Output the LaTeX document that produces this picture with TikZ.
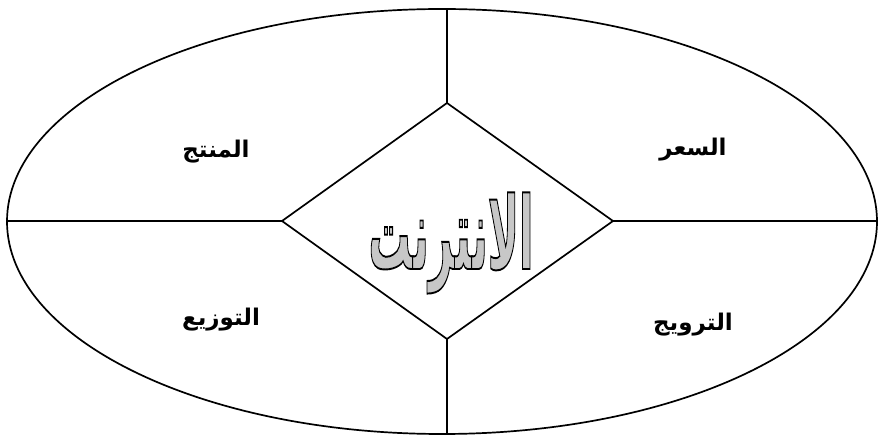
\documentclass[tikz,border=0pt]{standalone}
\usepackage{fontspec}
\TeXXeTstate=1
\newfontfamily\arabicfont[Script=Arabic]{DejaVu Sans}

\begin{document}
\begin{tikzpicture}[x=1pt, y=-1pt, line width=1.7pt]
% Stile per le etichette dei quattro settori
\tikzset{label/.style={font=\arabicfont\bfseries\fontsize{23}{26}\selectfont, inner sep=0pt}}

% Area del disegno (proporzioni del riferimento)
\useasboundingbox (0,0) rectangle (878,435);

% Parametri geometrici dell'ellisse e del rombo
\def\cx{442}  % centro ellisse
\def\cy{221.5}
\def\rx{435}  % semiassi
\def\ry{212.5}

% Vertici del rombo
\coordinate (T) at (447,103);
\coordinate (D) at (447,339);
\coordinate (L) at (282,221);
\coordinate (R) at (613,221);

% Punti sul bordo dell'ellisse
\coordinate (ET) at (447,9);
\coordinate (ED) at (447,434);
\coordinate (EL) at (7,221);
\coordinate (ER) at (877,221);

% --- ELLISSE ---
\draw (\cx,\cy) ellipse [x radius=\rx, y radius=\ry];

% --- ROMBO CENTRALE ---
\draw (T) -- (R) -- (D) -- (L) -- cycle;

% --- SEGMENTI DI SEPARAZIONE ---
\draw (ET) -- (T);
\draw (D) -- (ED);
\draw (EL) -- (L);
\draw (R) -- (ER);

% --- ETICHETTE ---
\node[label] (prodotto) at (216,152) {\beginR المنتج\endR};
\node[label] (prezzo) at (693,150) {\beginR السعر\endR};
\node[label] (distribuzione) at (221,320) {\beginR التوزيع\endR};
\node[label] (promozione) at (693,325) {\beginR الترويج\endR};

% Scritta centrale
\node[inner sep=0pt, text=black!22] (internet) at (451,243)
  {\scalebox{1}[2.4]{\arabicfont\bfseries\fontsize{42}{48}\selectfont
   \special{pdf:literal direct 2 Tr 0.8 w 0 G}\beginR الانترنت\endR\special{pdf:literal direct 0 Tr}}};

\end{tikzpicture}
\end{document}
